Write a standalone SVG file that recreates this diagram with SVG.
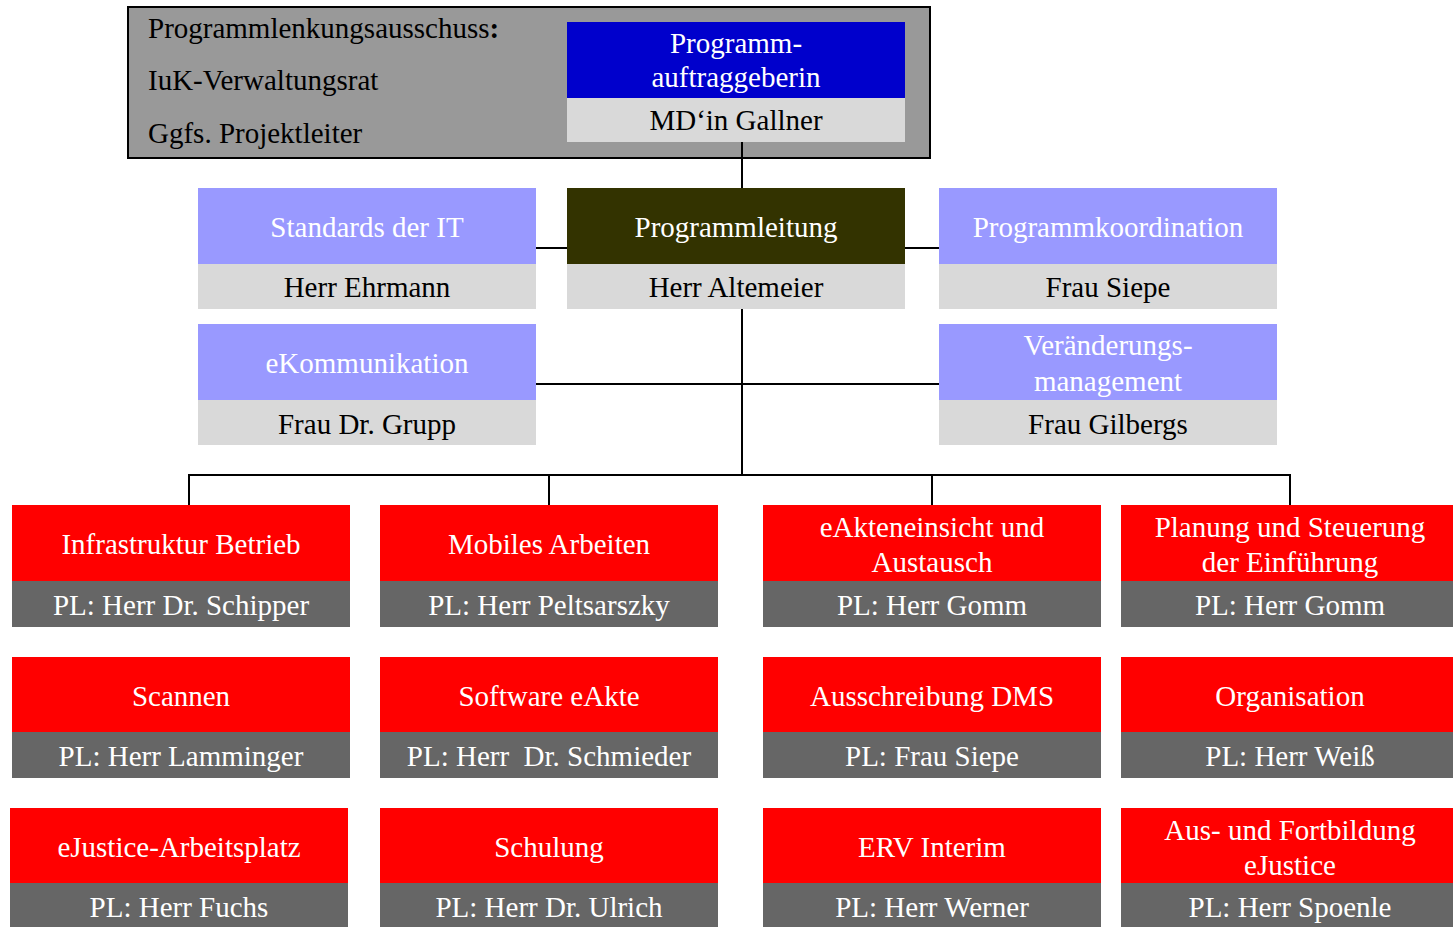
<svg xmlns="http://www.w3.org/2000/svg" width="1453" height="927" viewBox="0 0 1453 927">
<style>
text{font-family:"Liberation Serif","Times New Roman",serif;font-size:29px;text-anchor:middle}
.w{fill:#ffffff}
.k{fill:#000000}
.red{fill:#ff0000}
.gr{fill:#666666}
.lg{fill:#d9d9d9}
.lav{fill:#9999ff}
.ln{stroke:#000;stroke-width:2;fill:none}
</style>
<rect width="1453" height="927" fill="#ffffff"/>
<g id="lenkungsausschuss">
<rect x="128" y="7" width="802" height="151" fill="#999999" stroke="#000" stroke-width="2"/>
<text x="148" y="38" class="k" style="text-anchor:start">Programmlenkungsausschuss<tspan font-weight="bold">:</tspan></text>
<text x="148" y="90" class="k" style="text-anchor:start">IuK-Verwaltungsrat</text>
<text x="148" y="143" class="k" style="text-anchor:start">Ggfs. Projektleiter</text>
</g>
<g id="connectors">
<path class="ln" d="M742 142V188M742 309V475M536 248H582M895 248H939M536 384H939M189 505V475H1290V505M549 475V505M932 475V505"/>
</g>
<g id="auftraggeberin">
<rect x="567" y="22" width="338" height="76" fill="#0000cc"/>
<rect x="567" y="98" width="338" height="44" class="lg"/>
<text x="736" y="53" class="w">Programm-</text>
<text x="736" y="87" class="w">auftraggeberin</text>
<text x="736" y="130" class="k">MD‘in Gallner</text>
</g>
<g id="standards">
<rect x="198" y="188" width="338" height="76" class="lav"/>
<rect x="198" y="264" width="338" height="45" class="lg"/>
<text x="367" y="237" class="w">Standards der IT</text>
<text x="367" y="297" class="k">Herr Ehrmann</text>
</g>
<g id="programmleitung">
<rect x="567" y="188" width="338" height="76" fill="#333300"/>
<rect x="567" y="264" width="338" height="45" class="lg"/>
<text x="736" y="237" class="w">Programmleitung</text>
<text x="736" y="297" class="k">Herr Altemeier</text>
</g>
<g id="programmkoordination">
<rect x="939" y="188" width="338" height="76" class="lav"/>
<rect x="939" y="264" width="338" height="45" class="lg"/>
<text x="1108" y="237" class="w">Programmkoordination</text>
<text x="1108" y="297" class="k">Frau Siepe</text>
</g>
<g id="ekommunikation">
<rect x="198" y="324" width="338" height="76" class="lav"/>
<rect x="198" y="400" width="338" height="45" class="lg"/>
<text x="367" y="373" class="w">eKommunikation</text>
<text x="367" y="434" class="k">Frau Dr. Grupp</text>
</g>
<g id="veraenderungsmanagement">
<rect x="939" y="324" width="338" height="76" class="lav"/>
<rect x="939" y="400" width="338" height="45" class="lg"/>
<text x="1108" y="355" class="w">Veränderungs-</text>
<text x="1108" y="391" class="w">management</text>
<text x="1108" y="434" class="k">Frau Gilbergs</text>
</g>
<g id="infrastruktur">
<rect x="12" y="505" width="338" height="76" class="red"/>
<rect x="12" y="581" width="338" height="46" class="gr"/>
<text x="181" y="554" class="w">Infrastruktur Betrieb</text>
<text x="181" y="615" class="w">PL: Herr Dr. Schipper</text>
</g>
<g id="mobiles">
<rect x="380" y="505" width="338" height="76" class="red"/>
<rect x="380" y="581" width="338" height="46" class="gr"/>
<text x="549" y="554" class="w">Mobiles Arbeiten</text>
<text x="549" y="615" class="w">PL: Herr Peltsarszky</text>
</g>
<g id="eakteneinsicht">
<rect x="763" y="505" width="338" height="76" class="red"/>
<rect x="763" y="581" width="338" height="46" class="gr"/>
<text x="932" y="537" class="w">eAkteneinsicht und</text>
<text x="932" y="572" class="w">Austausch</text>
<text x="932" y="615" class="w">PL: Herr Gomm</text>
</g>
<g id="planung">
<rect x="1121" y="505" width="338" height="76" class="red"/>
<rect x="1121" y="581" width="338" height="46" class="gr"/>
<text x="1290" y="537" class="w">Planung und Steuerung</text>
<text x="1290" y="572" class="w">der Einführung</text>
<text x="1290" y="615" class="w">PL: Herr Gomm</text>
</g>
<g id="scannen">
<rect x="12" y="657" width="338" height="75" class="red"/>
<rect x="12" y="732" width="338" height="46" class="gr"/>
<text x="181" y="706" class="w">Scannen</text>
<text x="181" y="766" class="w">PL: Herr Lamminger</text>
</g>
<g id="software">
<rect x="380" y="657" width="338" height="75" class="red"/>
<rect x="380" y="732" width="338" height="46" class="gr"/>
<text x="549" y="706" class="w">Software eAkte</text>
<text x="549" y="766" class="w" xml:space="preserve">PL: Herr  Dr. Schmieder</text>
</g>
<g id="ausschreibung">
<rect x="763" y="657" width="338" height="75" class="red"/>
<rect x="763" y="732" width="338" height="46" class="gr"/>
<text x="932" y="706" class="w">Ausschreibung DMS</text>
<text x="932" y="766" class="w">PL: Frau Siepe</text>
</g>
<g id="organisation">
<rect x="1121" y="657" width="338" height="75" class="red"/>
<rect x="1121" y="732" width="338" height="46" class="gr"/>
<text x="1290" y="706" class="w">Organisation</text>
<text x="1290" y="766" class="w">PL: Herr Weiß</text>
</g>
<g id="arbeitsplatz">
<rect x="10" y="808" width="338" height="75" class="red"/>
<rect x="10" y="883" width="338" height="44" class="gr"/>
<text x="179" y="857" class="w">eJustice-Arbeitsplatz</text>
<text x="179" y="917" class="w">PL: Herr Fuchs</text>
</g>
<g id="schulung">
<rect x="380" y="808" width="338" height="75" class="red"/>
<rect x="380" y="883" width="338" height="44" class="gr"/>
<text x="549" y="857" class="w">Schulung</text>
<text x="549" y="917" class="w">PL: Herr Dr. Ulrich</text>
</g>
<g id="erv">
<rect x="763" y="808" width="338" height="75" class="red"/>
<rect x="763" y="883" width="338" height="44" class="gr"/>
<text x="932" y="857" class="w">ERV Interim</text>
<text x="932" y="917" class="w">PL: Herr Werner</text>
</g>
<g id="fortbildung">
<rect x="1121" y="808" width="338" height="75" class="red"/>
<rect x="1121" y="883" width="338" height="44" class="gr"/>
<text x="1290" y="840" class="w">Aus- und Fortbildung</text>
<text x="1290" y="875" class="w">eJustice</text>
<text x="1290" y="917" class="w">PL: Herr Spoenle</text>
</g>
</svg>
